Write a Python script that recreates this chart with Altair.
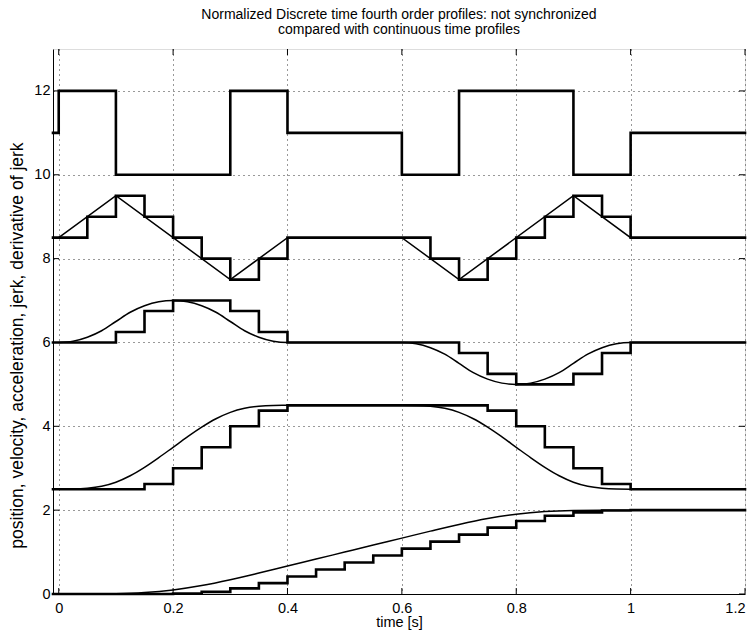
import altair as alt
import pandas as pd

# ---- discrete sample instants (zero-order hold, T = 0.05 s) ----
t_disc = [-0.01, 0.0, 0.05, 0.1, 0.15, 0.2, 0.25, 0.3, 0.35, 0.4, 0.45, 0.5, 0.55,
          0.6, 0.65, 0.7, 0.75, 0.8, 0.85, 0.9, 0.95, 1.0, 1.05, 1.1, 1.15, 1.2]

jerk_disc = [8.5, 8.5, 9.0, 9.5, 9.0, 8.5, 8.0, 7.5, 8.0, 8.5, 8.5, 8.5, 8.5,
             8.5, 8.0, 7.5, 8.0, 8.5, 9.0, 9.5, 9.0, 8.5, 8.5, 8.5, 8.5, 8.5]
acc_disc = [6.0, 6.0, 6.0, 6.25, 6.75, 7.0, 7.0, 6.75, 6.25, 6.0, 6.0, 6.0, 6.0,
            6.0, 6.0, 5.75, 5.25, 5.0, 5.0, 5.25, 5.75, 6.0, 6.0, 6.0, 6.0, 6.0]
vel_disc = [2.5, 2.5, 2.5, 2.5, 2.625, 3.0, 3.5, 4.0, 4.375, 4.5, 4.5, 4.5, 4.5,
            4.5, 4.5, 4.5, 4.375, 4.0, 3.5, 3.0, 2.625, 2.5, 2.5, 2.5, 2.5, 2.5]
pos_disc = [0.0, 0.0, 0.0, 0.0, 0.0, 0.01, 0.05, 0.135, 0.26, 0.417, 0.583, 0.75, 0.917,
            1.083, 1.25, 1.417, 1.583, 1.74, 1.865, 1.948, 1.99, 2.0, 2.0, 2.0, 2.0, 2.0]

# ---- derivative of jerk (switching instants) ----
t_dj = [-0.01, 0.0, 0.1, 0.3, 0.4, 0.6, 0.7, 0.9, 1.0, 1.2]
dj_vals = [11, 12, 10, 12, 11, 10, 12, 10, 11, 11]

# ---- continuous jerk (corner points) ----
t_jerk = [0.0, 0.1, 0.3, 0.4, 0.6, 0.7, 0.9, 1.0, 1.2]
jerk_cont = [8.5, 9.5, 7.5, 8.5, 8.5, 7.5, 9.5, 8.5, 8.5]

# ---- continuous acceleration / velocity ----
t_c = [0.0, 0.025, 0.05, 0.075, 0.1, 0.125, 0.15, 0.175, 0.2, 0.225, 0.25, 0.275, 0.3,
       0.325, 0.35, 0.375, 0.4, 0.5, 0.6, 0.625, 0.65, 0.675, 0.7, 0.725, 0.75, 0.775,
       0.8, 0.825, 0.85, 0.875, 0.9, 0.925, 0.95, 0.975, 1.0, 1.1, 1.2]
acc_cont = [6.0, 6.03, 6.125, 6.28, 6.5, 6.72, 6.875, 6.97, 7.0, 6.97, 6.875, 6.72, 6.5,
            6.28, 6.125, 6.03, 6.0, 6.0, 6.0, 5.97, 5.875, 5.72, 5.5, 5.28, 5.125, 5.03,
            5.0, 5.03, 5.125, 5.28, 5.5, 5.72, 5.875, 5.97, 6.0, 6.0, 6.0]
vel_cont = [2.5, 2.503, 2.521, 2.57, 2.667, 2.82, 3.021, 3.253, 3.5, 3.747, 3.979, 4.18, 4.333,
            4.43, 4.479, 4.497, 4.5, 4.5, 4.5, 4.497, 4.479, 4.43, 4.333, 4.18, 3.979, 3.747,
            3.5, 3.253, 3.021, 2.82, 2.667, 2.57, 2.521, 2.503, 2.5, 2.5, 2.5]

# ---- continuous position ----
t_p = [0.0, 0.05, 0.1, 0.15, 0.2, 0.25, 0.3, 0.35, 0.4, 0.45, 0.5, 0.55, 0.6,
       0.65, 0.7, 0.75, 0.8, 0.85, 0.9, 0.95, 1.0, 1.1, 1.2]
pos_cont = [0.0, 0.0004, 0.007, 0.034, 0.097, 0.201, 0.34, 0.5, 0.667, 0.833, 1.0, 1.167, 1.333,
            1.5, 1.66, 1.799, 1.903, 1.966, 1.993, 1.9996, 2.0, 2.0, 2.0]

x_ticks = [0, 0.2, 0.4, 0.6, 0.8, 1.0, 1.2]
y_ticks = [0, 2, 4, 6, 8, 10, 12]

W, H = 692, 545

rows_d = []
for name, vals in [("jerk", jerk_disc), ("acc", acc_disc), ("vel", vel_disc), ("pos", pos_disc)]:
    for t, v in zip(t_disc, vals):
        rows_d.append({"t": t, "y": v, "s": name})
for t, v in zip(t_dj, dj_vals):
    rows_d.append({"t": t, "y": v, "s": "dj"})
df_d = pd.DataFrame(rows_d)

rows_c = []
for name, ts, vals in [("acc", t_c, acc_cont), ("vel", t_c, vel_cont), ("pos", t_p, pos_cont)]:
    for t, v in zip(ts, vals):
        rows_c.append({"t": t, "y": v, "s": name})
df_c = pd.DataFrame(rows_c)
df_j = pd.DataFrame({"t": t_jerk, "y": jerk_cont})
df_xt = pd.DataFrame({"t": x_ticks})
df_yt = pd.DataFrame({"y": y_ticks})

FONT = "Liberation Sans"

xenc = alt.X("t:Q", scale=alt.Scale(domain=[-0.01, 1.2], nice=False, zero=False),
             axis=alt.Axis(values=x_ticks, format=".1~f", title="time [s]",
                           grid=True, gridColor="#333", gridDash=[1, 4], gridWidth=1,
                           ticks=False, labelPadding=7, labelFontSize=14.5, labelFont=FONT,
                           titleFont=FONT, titleFontSize=14.5, titleFontWeight="normal",
                           titlePadding=1, domainColor="black", labelColor="black",
                           titleColor="black"))
yenc = alt.Y("y:Q", scale=alt.Scale(domain=[0, 13], nice=False),
             axis=alt.Axis(values=y_ticks, title="position, velocity, acceleration, jerk, derivative of jerk",
                           grid=True, gridColor="#333", gridDash=[1, 4], gridWidth=1,
                           ticks=False, labelPadding=3, labelFontSize=14.5, labelFont=FONT,
                           titleFont=FONT, titleFontSize=17.5, titleFontWeight="normal",
                           titleX=-31, titleY=296, titleBaseline="alphabetic",
                           domainColor="black", labelColor="black", titleColor="black"))

disc = alt.Chart(df_d).mark_line(interpolate="step-after", strokeWidth=2.6, color="black",
                                 strokeCap="square").encode(
    x=xenc, y=yenc, detail="s:N")
cont = alt.Chart(df_c).mark_line(interpolate="monotone", strokeWidth=1.5, color="black").encode(
    x="t:Q", y="y:Q", detail="s:N")
jcont = alt.Chart(df_j).mark_line(interpolate="linear", strokeWidth=1.5, color="black").encode(
    x="t:Q", y="y:Q")

# inward tick marks (MATLAB style)
xt_top = alt.Chart(df_xt).mark_rule(color="black", strokeWidth=1).encode(
    x="t:Q", y=alt.value(0), y2=alt.value(6))
xt_bot = alt.Chart(df_xt).mark_rule(color="black", strokeWidth=1).encode(
    x="t:Q", y=alt.value(H - 6), y2=alt.value(H))
yt_left = alt.Chart(df_yt).mark_rule(color="black", strokeWidth=1).encode(
    y="y:Q", x=alt.value(0), x2=alt.value(6))
yt_right = alt.Chart(df_yt).mark_rule(color="black", strokeWidth=1).encode(
    y="y:Q", x=alt.value(W - 6), x2=alt.value(W))

chart = alt.layer(disc, cont, jcont, xt_top, xt_bot, yt_left, yt_right).properties(
    width=W, height=H,
    title=alt.TitleParams(["Normalized Discrete time fourth order profiles: not synchronized",
                           "compared with continuous time profiles"],
                          font=FONT, fontSize=14, fontWeight="normal", anchor="middle",
                          color="black", offset=12, lineHeight=14.5),
    autosize=alt.AutoSizeParams(type="none"),
    padding={"left": 45, "top": 41, "right": 2, "bottom": 37},
).configure_view(stroke="black", strokeWidth=1.2).configure(background="white")

chart.save("out.html", embed_options={"renderer": "svg", "actions": False})
